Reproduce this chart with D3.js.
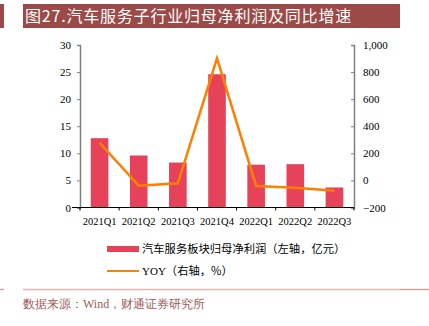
<!DOCTYPE html>
<html><head><meta charset="utf-8">
<script src="https://cdn.jsdelivr.net/npm/d3@7"></script>
<style>body{margin:0;background:#fff}svg{display:block}</style>
</head><body>
<svg id="c" width="429" height="326"></svg>
<script>
const categories = ["2021Q1","2021Q2","2021Q3","2021Q4","2022Q1","2022Q2","2022Q3"];
const profit = [12.8, 9.6, 8.3, 24.6, 7.9, 8.0, 3.7];
const yoy = [278, -39, -21, 902, -41, -54, -76];
const leftTicks = [0,5,10,15,20,25,30];
const rightTicks = [-200,0,200,400,600,800,1000];
const titleText = "图27.汽车服务子行业归母净利润及同比增速";
const legendBar = "汽车服务板块归母净利润（左轴，亿元）";
const legendLine = "YOY（右轴，%）";
const sourceText = "数据来源：Wind，财通证券研究所";

const svg = d3.select("#c");
const serif = "'Liberation Serif','Times New Roman',serif";
const cjk = "'Noto Sans CJK SC',sans-serif";

// title bar
svg.append("rect").attr("x",0).attr("y",4).attr("width",4).attr("height",24).attr("fill","#9b4a47");
svg.append("rect").attr("x",23).attr("y",4).attr("width",377).attr("height",24).attr("fill","#9b4a47");
svg.append("text").attr("x",25).attr("y",22).attr("fill","#fff")
  .style("font-family",cjk).style("font-size","16px").style("letter-spacing","0.8px").text(titleText);

const L=80, R=354, T=45, B=207.5;
const x = d3.scaleBand().domain(categories).range([L,R]).paddingInner(0.55).paddingOuter(0.275);
const xp = d3.scalePoint().domain(categories).range([L,R]).padding(0.5);
const yL = d3.scaleLinear().domain([0,30]).range([B,T]);
const yR = d3.scaleLinear().domain([-200,1000]).range([B,T]);

// bars
svg.append("g").selectAll("rect").data(profit).join("rect")
  .attr("x",(d,i)=>x(categories[i])).attr("width",x.bandwidth())
  .attr("y",d=>yL(d)).attr("height",d=>yL(0)-yL(d)).attr("fill","#e6435a");

// line
svg.append("path").datum(yoy)
  .attr("d",d3.line().x((d,i)=>xp(categories[i])).y(d=>yR(d)))
  .attr("fill","none").attr("stroke","#ff7f00").attr("stroke-width",2.5);

// left axis
const gL = svg.append("g").attr("transform",`translate(${L},0)`)
  .call(d3.axisLeft(yL).tickValues(leftTicks).tickSize(3).tickPadding(6));
// right axis
const gR = svg.append("g").attr("transform",`translate(${R},0)`)
  .call(d3.axisRight(yR).tickValues(rightTicks).tickSize(-3).tickPadding(9).tickFormat(d3.format(",")));
// x axis
const xb = d3.scaleLinear().domain([0,categories.length]).range([L,R]);
const gX = svg.append("g").attr("transform",`translate(0,${B})`);
gX.append("line").attr("x1",L-8).attr("x2",R).attr("stroke","#000").attr("stroke-width",1);
gX.selectAll("line.t").data(d3.range(categories.length+1)).join("line").attr("class","t")
  .attr("x1",d=>xb(d)).attr("x2",d=>xb(d)).attr("y1",0).attr("y2",3).attr("stroke","#000");
gX.selectAll("text").data(categories).join("text")
  .attr("x",d=>xp(d)).attr("y",17).attr("text-anchor","middle").text(d=>d);

[gL,gR].forEach(g=>{g.select(".domain").attr("stroke","#808080").attr("stroke-width",1.5);
  g.selectAll(".tick line").attr("stroke","#808080");});
svg.selectAll("text").filter(function(){return !this.getAttribute("fill")||this.getAttribute("fill")!=="#fff";})
  .style("font-family",serif).style("font-size","11px").attr("fill","#000");
gX.selectAll("text").style("font-size","10.5px");

// legend
svg.append("rect").attr("x",107).attr("y",246).attr("width",32).attr("height",6).attr("fill","#e6435a");
svg.append("text").attr("x",142).attr("y",253).style("font-family",cjk).style("font-size","11.3px").attr("fill","#000").text(legendBar);
svg.append("line").attr("x1",107).attr("x2",139).attr("y1",271).attr("y2",271).attr("stroke","#ff7f00").attr("stroke-width",2);
svg.append("text").attr("x",142).attr("y",275).style("font-family",serif).style("font-size","11px").attr("fill","#000")
  .text("YOY").append("tspan").style("font-family",cjk).style("font-size","11.3px").text("（右轴，%）");

// footer
svg.append("line").attr("x1",23).attr("x2",400).attr("y1",289.5).attr("y2",289.5).attr("stroke","#dbb9b7").attr("stroke-width",1.5);
svg.append("line").attr("x1",0).attr("x2",4).attr("y1",289.5).attr("y2",289.5).attr("stroke","#cfa5a2").attr("stroke-width",1.5);
svg.append("line").attr("x1",400).attr("x2",429).attr("y1",289.5).attr("y2",289.5).attr("stroke","#cfa5a2").attr("stroke-width",1.5);
svg.append("text").attr("x",23).attr("y",308).attr("fill","#9e5a58")
  .style("font-family",serif).style("font-size","12px").text(sourceText);
</script>
</body></html>
